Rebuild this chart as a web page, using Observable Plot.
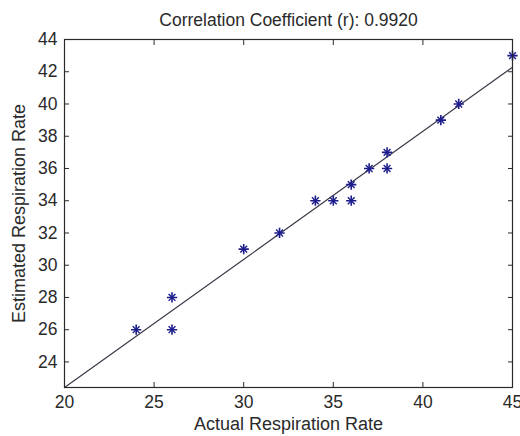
<!DOCTYPE html>
<html>
<head>
<meta charset="utf-8">
<script src="https://cdn.jsdelivr.net/npm/d3@7"></script>
<script src="https://cdn.jsdelivr.net/npm/@observablehq/plot@0.6"></script>
<style>
  html, body { margin: 0; padding: 0; background: #fff; }
</style>
</head>
<body>
<div id="chart"></div>
<script>
const actual    = [24, 26, 26, 30, 32, 34, 35, 36, 36, 37, 38, 38, 41, 42, 45];
const estimated = [26, 28, 26, 31, 32, 34, 34, 34, 35, 36, 36, 37, 39, 40, 43];
const xTicks = [20, 25, 30, 35, 40, 45];
const yTicks = [24, 26, 28, 30, 32, 34, 36, 38, 40, 42, 44];
const xDomain = [20, 45];
const yMax = 44;
const titleText = "Correlation Coefficient (r): 0.9920";
const xLabel = "Actual Respiration Rate";
const yLabel = "Estimated Respiration Rate";

const points = actual.map((a, i) => ({x: a, y: estimated[i]}));

// least-squares fit of estimated on actual
const mx = d3.mean(actual), my = d3.mean(estimated);
const sxy = d3.sum(actual, (a, i) => (a - mx) * (estimated[i] - my));
const sxx = d3.sum(actual, a => (a - mx) ** 2);
const slope = sxy / sxx;
const intercept = my - slope * mx;
const fitLine = xDomain.map(x => ({x, y: intercept + slope * x}));
const yDomain = [intercept + slope * xDomain[0], yMax];

const ink = "#2a2a2a";
const markerColor = "#1c1c8c";
const tick = 5;

const chart = Plot.plot({
  width: 520,
  height: 436,
  marginLeft: 64,
  marginRight: 8,
  marginTop: 39,
  marginBottom: 49,
  style: {fontFamily: "'Liberation Sans', Arial, sans-serif", fontSize: "17.5px", color: ink, background: "#fff", overflow: "visible"},
  x: {domain: xDomain, label: null},
  y: {domain: yDomain, label: null},
  marks: [
    Plot.line(fitLine, {x: "x", y: "y", stroke: "#3a3a48", strokeWidth: 1.2}),
    Plot.dot(points, {x: "x", y: "y", symbol: "plus", r: 3.4, stroke: markerColor, strokeWidth: 1.6}),
    Plot.dot(points, {x: "x", y: "y", symbol: "times", r: 3.2, stroke: markerColor, strokeWidth: 1.4}),
    Plot.frame({stroke: ink, strokeWidth: 1.2}),
    // inward ticks on all four sides
    Plot.axisX(xTicks, {anchor: "bottom", tickSize: tick, dy: -tick, text: null, stroke: ink, label: null}),
    Plot.axisX(xTicks, {anchor: "top", tickSize: tick, dy: tick, text: null, stroke: ink, label: null}),
    Plot.axisY(yTicks, {anchor: "left", tickSize: tick, dx: tick, text: null, stroke: ink, label: null}),
    Plot.axisY(yTicks, {anchor: "right", tickSize: tick, dx: -tick, text: null, stroke: ink, label: null}),
    // tick labels
    Plot.axisX(xTicks, {anchor: "bottom", tickSize: 0, tickPadding: 8, label: null, fill: ink}),
    Plot.axisY(yTicks, {anchor: "left", tickSize: 0, tickPadding: 7, label: null, fill: ink}),
    // title and axis labels
    Plot.text([titleText], {frameAnchor: "top", dy: -19, text: d => d, fontSize: 17.5, fill: ink, lineAnchor: "middle"}),
    Plot.text([xLabel], {frameAnchor: "bottom", dy: 37, text: d => d, fontSize: 18, fill: ink, lineAnchor: "middle"}),
    Plot.text([yLabel], {frameAnchor: "left", dx: -45, rotate: -90, textAnchor: "middle", text: d => d, fontSize: 18, fill: ink, lineAnchor: "middle"})
  ]
});
document.getElementById("chart").appendChild(chart);
</script>
</body>
</html>
